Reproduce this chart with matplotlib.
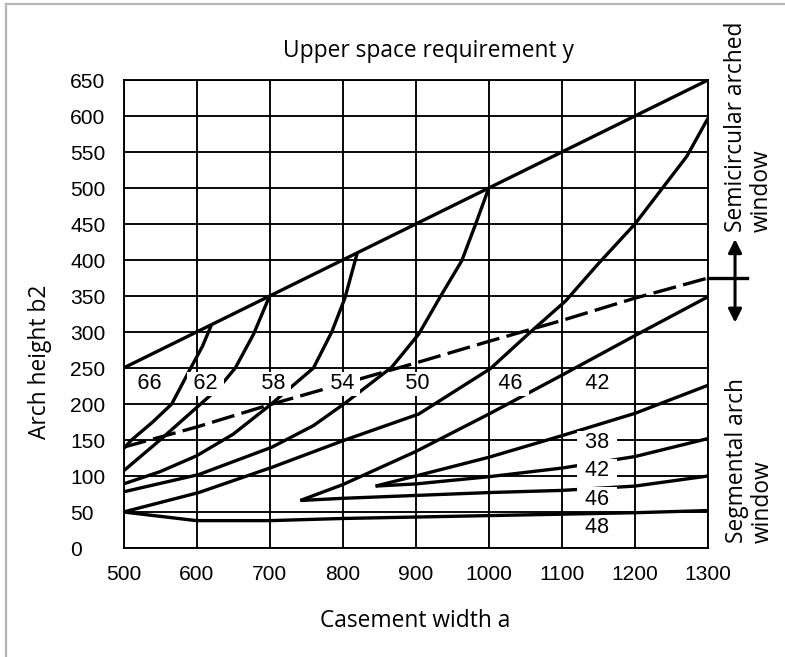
import matplotlib
matplotlib.use("Agg")
import matplotlib.pyplot as plt
from matplotlib.lines import Line2D

# ---------------- data ----------------
x_ticks = [500, 600, 700, 800, 900, 1000, 1100, 1200, 1300]
y_ticks = [0, 50, 100, 150, 200, 250, 300, 350, 400, 450, 500, 550, 600, 650]

# semicircular limit line (b2 = a/2)
a_semi = [500, 700, 1000, 1300]
b_semi = [250, 350, 500, 650]

# constant upper-space-requirement curves (semicircular region)
a_66 = [500, 511, 540, 566, 592, 608, 620]
b_66 = [138, 150, 175, 200, 250, 280, 309]
a_62 = [500, 550, 600, 630, 653, 678, 700]
b_62 = [107, 150, 195, 222, 250, 297, 350]
a_58 = [500, 550, 600, 650, 700, 760, 785, 803, 820]
b_58 = [89, 106, 128, 158, 198, 250, 300, 347, 410]
a_54 = [500, 603, 703, 760, 803, 867, 904, 933, 963, 982, 1000]
b_54 = [78, 102, 140, 170, 201, 251, 297, 348, 399, 450, 500]
a_50 = [500, 603, 703, 803, 904, 1002, 1057, 1105, 1150, 1200, 1271, 1300]
b_50 = [50, 77, 112, 150, 186, 249, 300, 343, 395, 450, 544, 597]
a_46u = [742, 800, 900, 1000, 1100, 1200, 1300]
b_46u = [66, 88, 134, 186, 240, 295, 349]
a_42u = [845, 900, 1000, 1100, 1200, 1300]
b_42u = [86, 100, 126, 156, 187, 226]

# segmental arch curves
a_42s = [845, 900, 1000, 1100, 1200, 1300]
b_42s = [86, 89, 99, 111, 127, 152]
a_46s = [742, 800, 900, 1000, 1100, 1200, 1300]
b_46s = [66, 69, 73, 77, 80, 86, 100]
a_48 = [500, 600, 700, 800, 900, 1000, 1100, 1200, 1300]
b_48 = [50, 38, 38, 41, 43, 45, 47, 49, 52]

# dashed boundary between semicircular and segmental arch
a_dash = [500, 600, 700, 800, 900, 1000, 1100, 1200, 1300]
b_dash = [140, 168, 199, 228, 257, 287, 316, 347, 375]

# curve labels
upper_labels = ["66", "62", "58", "54", "50", "46", "42"]
upper_label_a = [535, 612, 705, 799, 902, 1030, 1149]
upper_label_b = [228, 228, 228, 228, 228, 228, 228]
lower_labels = ["38", "42", "46", "48"]
lower_label_a = [1148, 1148, 1148, 1148]
lower_label_b = [146, 107, 68, 28]

# ---------------- figure ----------------
W, H = 785, 657
fig = plt.figure(figsize=(W / 100, H / 100), dpi=100)
ax = fig.add_axes([123.5 / W, 1 - 548 / H, (708 - 123.5) / W, (548 - 80) / H])

ax.set_xlim(500, 1300)
ax.set_ylim(0, 650)
ax.set_xticks(x_ticks)
ax.set_yticks(y_ticks)
ax.set_xticklabels([str(v) for v in x_ticks], fontfamily="Liberation Sans", fontsize=15.1)
ax.set_yticklabels([str(v) for v in y_ticks], fontfamily="Liberation Sans", fontsize=15.1)
for lbl in ax.get_yticklabels():
    lbl.set_ha("left")
ax.tick_params(axis="y", length=0, pad=38.5)
ax.tick_params(axis="x", length=0, pad=12.5)
ax.grid(True, color="black", lw=1.35, zorder=1)
ax.set_axisbelow(True)
for s in ax.spines.values():
    s.set_color("black")
    s.set_linewidth(1.35)

lw = 2.4
curve_kw = dict(color="black", lw=lw, solid_joinstyle="round", solid_capstyle="butt", zorder=3)
for aa, bb in [(a_semi, b_semi), (a_66, b_66), (a_62, b_62), (a_58, b_58), (a_54, b_54),
               (a_50, b_50), (a_46u, b_46u), (a_42u, b_42u), (a_42s, b_42s),
               (a_46s, b_46s), (a_48, b_48)]:
    ax.plot(aa, bb, **curve_kw)

ax.plot(a_dash, b_dash, color="black", lw=lw, dashes=(7, 2.2), zorder=3)

box = dict(boxstyle="square,pad=0.08", fc="white", ec="none")
for t, xa, yb in zip(upper_labels, upper_label_a, upper_label_b):
    ax.text(xa, yb, "\u2009" + t + "\u2009", ha="center", va="center", fontsize=15.6,
            fontfamily=["Liberation Sans", "DejaVu Sans"], bbox=box, zorder=5)
for t, xa, yb in zip(lower_labels, lower_label_a, lower_label_b):
    ax.text(xa, yb, " " + t + " ", ha="center", va="center", fontsize=15.6,
            fontfamily="Liberation Sans", bbox=box, zorder=5)

# marker at the boundary on the right
ax.plot([1300, 1354], [375, 375], color="black", lw=lw, clip_on=False, zorder=3)
ax.annotate("", xy=(1337, 429), xytext=(1337, 313), xycoords="data",
            arrowprops=dict(arrowstyle="<|-|>", lw=2.2, color="black",
                            mutation_scale=20, shrinkA=0, shrinkB=0),
            annotation_clip=False)

tf = "Open Sans"
fs = 16.4
fig.text(428 / W, 1 - 51 / H, "Upper space requirement y", ha="center", va="center",
         fontfamily=tf, fontsize=fs)
fig.text(415.5 / W, 1 - 621 / H, "Casement width a", ha="center", va="center",
         fontfamily=tf, fontsize=fs)
fig.text(40 / W, 1 - 362 / H, "Arch height b2", ha="center", va="center",
         rotation=90, fontfamily=tf, fontsize=fs)
fig.text(749 / W, 1 - 232 / H, "Semicircular arched\nwindow", ha="center", va="bottom",
         rotation=90, multialignment="left", fontfamily=tf, fontsize=fs, linespacing=1.1)
fig.text(750 / W, 1 - 543 / H, "Segmental arch\nwindow", ha="center", va="bottom",
         rotation=90, multialignment="left", fontfamily=tf, fontsize=fs, linespacing=1.1)

# light frame (top and left edges)
fig.add_artist(Line2D([6 / W, 1], [1 - 4 / H, 1 - 4 / H], color="#b5b5b5", lw=1.6,
                      transform=fig.transFigure))
fig.add_artist(Line2D([6 / W, 6 / W], [0, 1 - 4 / H], color="#b5b5b5", lw=1.6,
                      transform=fig.transFigure))

fig.savefig("out.png", dpi=100)
